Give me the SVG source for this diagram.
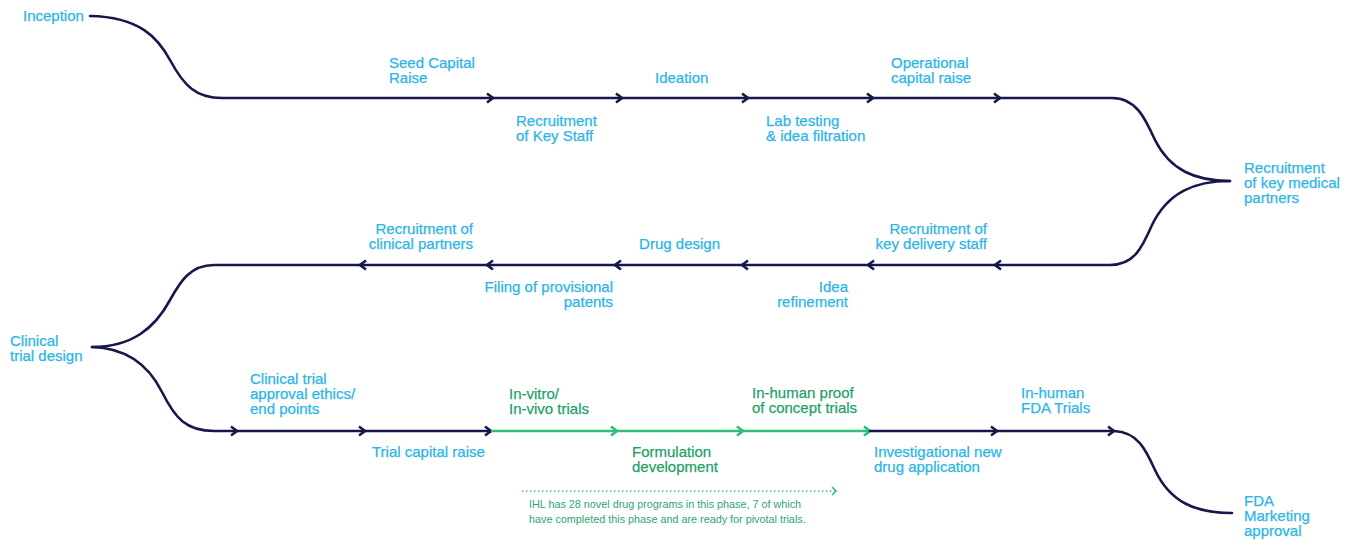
<svg xmlns="http://www.w3.org/2000/svg" width="1354" height="542" viewBox="0 0 1354 542">
<defs>
<style>
.ln{fill:none;stroke:#16184c;stroke-width:2.6;stroke-linecap:round}
.gl{fill:none;stroke:#2fbd7b;stroke-width:2.6}
.t{font-family:"Liberation Sans",Arial,sans-serif;font-size:15px;fill:#2bb5e6;stroke:#2bb5e6;stroke-width:0.25}
.g{font-family:"Liberation Sans",Arial,sans-serif;font-size:15px;fill:#1f9f69;stroke:#1f9f69;stroke-width:0.25}
.s{font-family:"Liberation Sans",Arial,sans-serif;font-size:10.8px;fill:#2aa772}
.r{text-anchor:end}
</style>
<marker id="an" markerUnits="userSpaceOnUse" markerWidth="20" markerHeight="20" viewBox="-10 -10 20 20" refX="0" refY="0" orient="auto"><path d="M-6,-4.5 L0,0 L-6,4.5" fill="none" stroke="#16184c" stroke-width="2.6" stroke-linejoin="miter"/></marker>
<marker id="ag" markerUnits="userSpaceOnUse" markerWidth="20" markerHeight="20" viewBox="-10 -10 20 20" refX="0" refY="0" orient="auto"><path d="M-6,-4.5 L0,0 L-6,4.5" fill="none" stroke="#2fbd7b" stroke-width="2.6"/></marker>
<marker id="ad" markerUnits="userSpaceOnUse" markerWidth="20" markerHeight="20" viewBox="-10 -10 20 20" refX="0" refY="0" orient="auto"><path d="M-4,-4 L0,0 L-4,4" fill="none" stroke="#2fbd7b" stroke-width="1.5"/></marker>
</defs>
<rect width="1354" height="542" fill="#ffffff"/>
<g id="connectors">
<path class="ln" marker-end="url(#an)" d="M90,16 C140,17 158,38 170,60 C184,86 196,98 222,98 L493,98"/>
<path class="ln" marker-end="url(#an)" d="M493,98 L622,98"/>
<path class="ln" marker-end="url(#an)" d="M622,98 L748,98"/>
<path class="ln" marker-end="url(#an)" d="M748,98 L873,98"/>
<path class="ln" marker-end="url(#an)" d="M873,98 L1000,98"/>
<path class="ln" d="M1000,98 L1112,98 C1136,98 1145,118 1155,140 C1170,170 1195,181 1230,181"/>
<path class="ln" marker-end="url(#an)" d="M1230,181 C1195,181 1168,192 1152,225 C1142,248 1134,265 1110,265 L995,265"/>
<path class="ln" marker-end="url(#an)" d="M995,265 L868,265"/>
<path class="ln" marker-end="url(#an)" d="M868,265 L742,265"/>
<path class="ln" marker-end="url(#an)" d="M742,265 L615,265"/>
<path class="ln" marker-end="url(#an)" d="M615,265 L487,265"/>
<path class="ln" marker-end="url(#an)" d="M487,265 L360,265"/>
<path class="ln" d="M360,265 L214,265 C190,265 180,282 170,300 C155,328 132,347 92,347"/>
<path class="ln" marker-end="url(#an)" d="M92,347 C130,348 150,368 162,392 C175,418 186,431 214,431 L237,431"/>
<path class="ln" marker-end="url(#an)" d="M237,431 L365,431"/>
<path class="ln" marker-end="url(#an)" d="M365,431 L491,431"/>
<path class="gl" marker-end="url(#ag)" d="M491,431 L617,431"/>
<path class="gl" marker-end="url(#ag)" d="M617,431 L743,431"/>
<path class="gl" marker-end="url(#ag)" d="M743,431 L870,431"/>
<path class="ln" marker-end="url(#an)" d="M870,431 L997,431"/>
<path class="ln" marker-end="url(#an)" d="M997,431 L1114,431"/>
<path class="ln" d="M1114,431 C1138,432 1146,450 1155,470 C1170,502 1195,513 1232,513"/>
<path fill="none" stroke="#2fbd7b" stroke-width="1.4" stroke-dasharray="1.4 2.6" marker-end="url(#ad)" d="M522,491 L836,491"/>
</g>
<g id="inception"><text class="t" x="23" y="21">Inception</text></g>
<g id="seed"><text class="t" x="389" y="68">Seed Capital</text><text class="t" x="389" y="83">Raise</text></g>
<g id="ideation"><text class="t" x="655" y="83">Ideation</text></g>
<g id="operational"><text class="t" x="891" y="68">Operational</text><text class="t" x="891" y="83">capital raise</text></g>
<g id="keystaff"><text class="t" x="516" y="126">Recruitment</text><text class="t" x="516" y="141">of Key Staff</text></g>
<g id="labtesting"><text class="t" x="766" y="126">Lab testing</text><text class="t" x="766" y="141">&amp; idea filtration</text></g>
<g id="medical"><text class="t" x="1244" y="173">Recruitment</text><text class="t" x="1244" y="188">of key medical</text><text class="t" x="1244" y="203">partners</text></g>
<g id="delivery"><text class="t r" x="987" y="234">Recruitment of</text><text class="t r" x="987" y="249">key delivery staff</text></g>
<g id="drugdesign"><text class="t r" x="720" y="249">Drug design</text></g>
<g id="clinicalpartners"><text class="t r" x="473" y="234">Recruitment of</text><text class="t r" x="473" y="249">clinical partners</text></g>
<g id="idearefinement"><text class="t r" x="848" y="292">Idea</text><text class="t r" x="848" y="307">refinement</text></g>
<g id="patents"><text class="t r" x="613" y="292">Filing of provisional</text><text class="t r" x="613" y="307">patents</text></g>
<g id="clinicaltrialdesign"><text class="t" x="10" y="346">Clinical</text><text class="t" x="10" y="361">trial design</text></g>
<g id="ethics"><text class="t" x="250" y="384">Clinical trial</text><text class="t" x="250" y="399">approval ethics/</text><text class="t" x="250" y="414">end points</text></g>
<g id="trialcapital"><text class="t" x="372" y="457">Trial capital raise</text></g>
<g id="invitro"><text class="g" x="509" y="399">In-vitro/</text><text class="g" x="509" y="414">In-vivo trials</text></g>
<g id="formulation"><text class="g" x="632" y="457">Formulation</text><text class="g" x="632" y="472">development</text></g>
<g id="inhumanproof"><text class="g" x="752" y="398">In-human proof</text><text class="g" x="752" y="413">of concept trials</text></g>
<g id="ind"><text class="t" x="874" y="457">Investigational new</text><text class="t" x="874" y="472">drug application</text></g>
<g id="fdatrials"><text class="t" x="1021" y="398">In-human</text><text class="t" x="1021" y="413">FDA Trials</text></g>
<g id="fdaapproval"><text class="t" x="1244" y="506">FDA</text><text class="t" x="1244" y="521">Marketing</text><text class="t" x="1244" y="536">approval</text></g>
<g id="note"><text class="s" x="529" y="508">IHL has 28 novel drug programs in this phase, 7 of which</text><text class="s" x="529" y="523">have completed this phase and are ready for pivotal trials.</text></g>
</svg>
